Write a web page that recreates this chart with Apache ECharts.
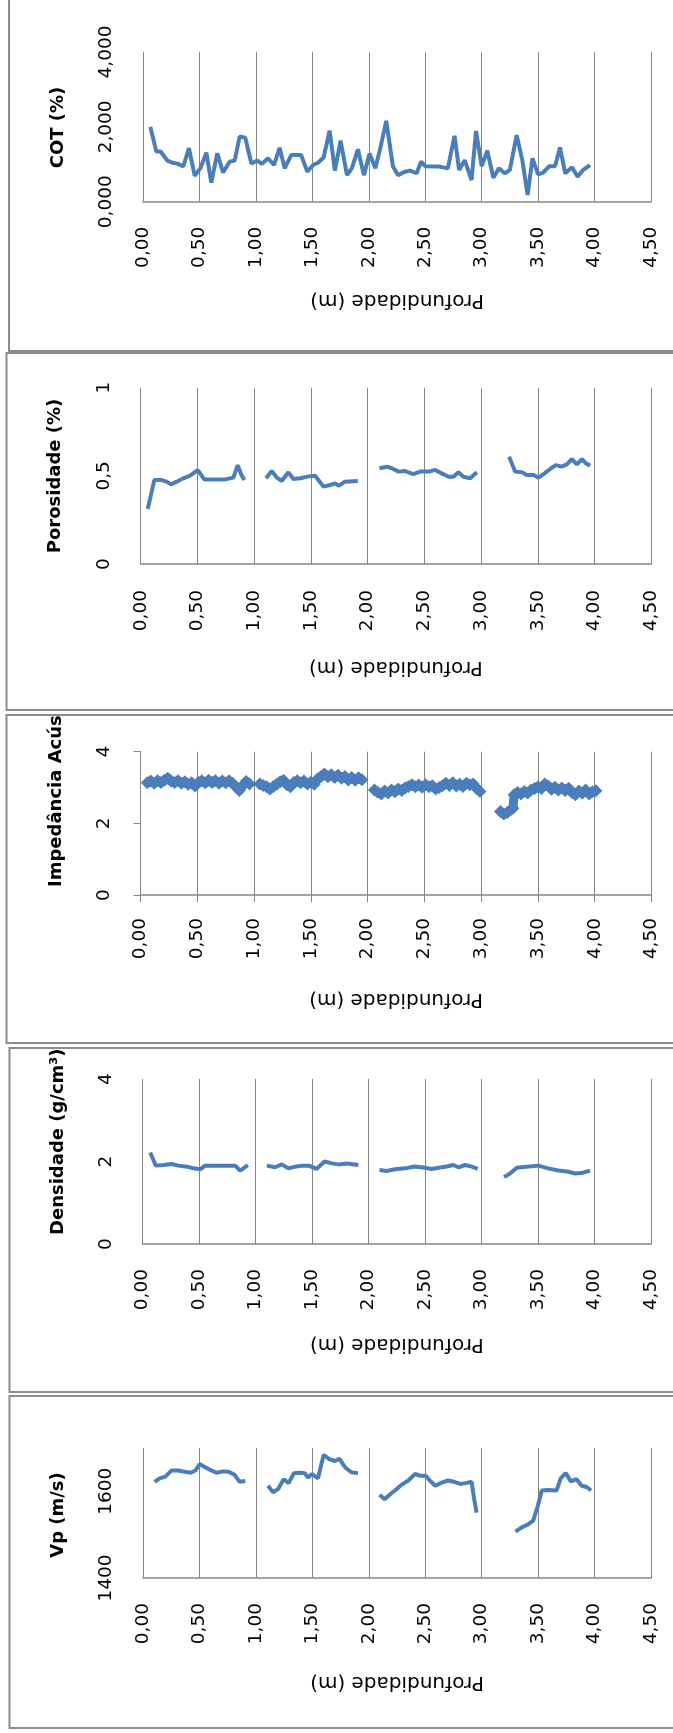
<!DOCTYPE html>
<html>
<head>
<meta charset="utf-8">
<script src="https://cdn.jsdelivr.net/npm/echarts@6/dist/echarts.min.js"></script>
<style>
html,body{margin:0;padding:0;background:#fff;}
#c{width:673px;height:1733px;}
</style>
</head>
<body>
<div id="c"></div>
<script>
// ---------- DATA ----------
var depthTicks = [0,0.5,1,1.5,2,2.5,3,3.5,4,4.5];

var cotDepth = [0.065,0.118,0.156,0.215,0.266,0.31,0.357,0.407,0.458,0.508,0.561,0.605,0.658,0.709,0.768,0.812,0.856,0.906,0.96,1.013,1.054,1.107,1.16,1.21,1.255,1.314,1.40,1.456,1.506,1.55,1.60,1.653,1.70,1.75,1.807,1.85,1.904,1.957,2.007,2.058,2.105,2.155,2.214,2.26,2.32,2.365,2.424,2.463,2.50,2.62,2.70,2.76,2.80,2.85,2.91,2.95,3.00,3.05,3.103,3.153,3.205,3.25,3.31,3.36,3.407,3.45,3.50,3.545,3.60,3.65,3.694,3.74,3.80,3.85,3.90,3.96];
var cotValue = [2.00,1.34,1.34,1.10,1.04,1.01,0.94,1.43,0.69,0.89,1.31,0.51,1.29,0.78,1.07,1.10,1.74,1.71,1.02,1.10,1.01,1.16,0.98,1.44,0.89,1.25,1.25,0.80,0.98,1.04,1.18,1.90,0.83,1.63,0.71,0.89,1.40,0.71,1.29,0.89,1.47,2.16,0.94,0.71,0.80,0.83,0.76,1.07,0.95,0.94,0.89,1.76,0.85,1.11,0.58,1.89,0.95,1.36,0.64,0.89,0.76,0.85,1.78,1.11,0.18,1.16,0.73,0.78,0.95,0.95,1.45,0.76,0.92,0.67,0.85,0.98];

var porDepth = [0.062,0.12,0.185,0.229,0.267,0.317,0.376,0.435,0.503,0.561,0.655,0.744,0.817,0.855,0.885,0.914,1.0,1.105,1.155,1.20,1.243,1.302,1.346,1.405,1.479,1.537,1.56,1.611,1.67,1.714,1.749,1.80,1.914,2.0,2.105,2.17,2.213,2.272,2.33,2.404,2.463,2.537,2.596,2.654,2.713,2.757,2.80,2.845,2.904,2.963,3.1,3.248,3.30,3.36,3.404,3.463,3.507,3.56,3.618,3.66,3.71,3.757,3.80,3.845,3.89,3.924,3.962];
var porValue = [0.312,0.476,0.476,0.467,0.452,0.467,0.486,0.501,0.533,0.480,0.480,0.480,0.490,0.561,0.509,0.476,null,0.486,0.527,0.490,0.471,0.520,0.482,0.486,0.497,0.501,0.482,0.439,0.448,0.457,0.444,0.467,0.471,null,0.543,0.552,0.543,0.524,0.527,0.510,0.524,0.524,0.533,0.514,0.495,0.495,0.520,0.495,0.486,0.520,null,0.609,0.524,0.520,0.505,0.505,0.490,0.514,0.543,0.561,0.552,0.565,0.595,0.565,0.595,0.571,0.558];

var impDepth = [0.06,0.09,0.12,0.15,0.18,0.21,0.24,0.27,0.30,0.33,0.36,0.39,0.42,0.45,0.48,0.51,0.54,0.57,0.60,0.63,0.66,0.69,0.72,0.75,0.78,0.81,0.84,0.87,0.90,0.93,0.96,1.0,
1.05,1.08,1.11,1.14,1.17,1.20,1.23,1.26,1.29,1.32,1.35,1.38,1.41,1.44,1.47,1.50,1.53,1.56,1.59,1.62,1.65,1.68,1.71,1.74,1.77,1.80,1.83,1.86,1.89,1.92,1.95,2.0,
2.06,2.09,2.12,2.15,2.18,2.21,2.24,2.27,2.30,2.33,2.36,2.39,2.42,2.45,2.48,2.51,2.54,2.57,2.60,2.63,2.66,2.69,2.72,2.75,2.78,2.81,2.84,2.87,2.90,2.93,2.96,2.99,3.08,
3.17,3.20,3.23,3.26,3.28,3.29,3.32,3.35,3.38,3.41,3.44,3.47,3.50,3.53,3.56,3.59,3.62,3.65,3.68,3.71,3.74,3.77,3.80,3.83,3.86,3.89,3.92,3.95,3.98,4.01];
var impValue = [3.13,3.18,3.12,3.19,3.14,3.20,3.26,3.18,3.14,3.19,3.12,3.16,3.09,3.13,3.04,3.14,3.19,3.13,3.20,3.14,3.19,3.12,3.18,3.13,3.19,3.12,3.02,2.92,3.06,3.17,3.10,null,
3.10,3.06,3.02,2.96,3.03,3.09,3.16,3.20,3.08,3.02,3.14,3.19,3.13,3.18,3.10,3.15,3.09,3.24,3.31,3.38,3.30,3.36,3.28,3.34,3.26,3.31,3.21,3.28,3.20,3.27,3.22,null,
2.93,2.87,2.82,2.90,2.85,2.93,2.88,2.96,2.92,2.99,3.03,3.08,3.02,3.07,3.01,3.08,3.02,3.05,2.96,3.00,3.05,3.12,3.06,3.13,3.04,3.09,3.03,3.12,3.08,3.10,2.97,2.89,null,
2.33,2.26,2.30,2.38,2.42,2.80,2.86,2.82,2.89,2.85,2.93,2.97,3.02,2.97,3.10,3.04,2.95,3.01,2.93,2.99,2.92,2.98,2.86,2.80,2.90,2.84,2.93,2.82,2.88,2.91];

var denDepth = [0.068,0.118,0.186,0.26,0.318,0.392,0.451,0.51,0.554,0.643,0.731,0.82,0.864,0.893,0.932,1.0,1.10,1.174,1.233,1.29,1.35,1.41,1.47,1.54,1.61,1.675,1.734,1.81,1.91,2.0,2.097,2.16,2.235,2.324,2.41,2.50,2.56,2.62,2.692,2.75,2.796,2.855,2.914,2.967,3.08,3.20,3.253,3.312,3.40,3.503,3.59,3.68,3.77,3.828,3.90,3.96];
var denValue = [2.22,1.90,1.915,1.94,1.90,1.875,1.834,1.81,1.90,1.90,1.90,1.90,1.78,1.834,1.915,null,1.90,1.86,1.93,1.834,1.875,1.90,1.90,1.82,2.00,1.955,1.93,1.95,1.915,null,1.794,1.77,1.81,1.834,1.88,1.85,1.82,1.85,1.88,1.915,1.86,1.915,1.875,1.82,null,1.62,1.71,1.85,1.875,1.90,1.834,1.78,1.75,1.71,1.73,1.78];

var vpDepth = [0.103,0.148,0.198,0.251,0.31,0.369,0.422,0.464,0.502,0.546,0.60,0.65,0.709,0.759,0.812,0.856,0.906,1.0,1.107,1.152,1.196,1.246,1.29,1.337,1.388,1.432,1.461,1.497,1.55,1.60,1.653,1.70,1.74,1.792,1.845,1.904,2.0,2.096,2.14,2.185,2.232,2.29,2.35,2.41,2.455,2.505,2.54,2.59,2.646,2.70,2.757,2.81,2.858,2.91,2.935,2.955,3.1,3.30,3.354,3.408,3.457,3.496,3.532,3.59,3.664,3.70,3.744,3.79,3.84,3.886,3.93,3.97];
var vpValue = [1622,1630,1634,1648,1648,1645,1643,1648,1663,1656,1649,1643,1646,1645,1638,1622,1624,null,1613,1598,1605,1628,1619,1642,1643,1642,1632,1640,1630,1684,1674,1670,1675,1655,1644,1642,null,1592,1582,1592,1602,1615,1625,1640,1636,1636,1625,1613,1620,1625,1622,1617,1619,1622,1580,1551,null,1507,1517,1523,1533,1565,1602,1603,1602,1630,1642,1623,1628,1613,1610,1602];

var panelNames = ['COT (%)','Porosidade (%)','Impedância Acústica','Densidade (g/cm³)','Vp (m/s)'];
var xName = 'Profundidade (m)';
var yMin = [0,0,0,0,1400];
var yMax = [4,1,4,4,1700];
var yInterval = [2,0.5,2,2,200];

// ---------- LAYOUT ----------
var grids = [
  {left:143, top:52, width:508, height:149.7},
  {left:140.7, top:387.7, width:510.5, height:176.3},
  {left:140.5, top:751.7, width:511, height:143.3},
  {left:142.5, top:1079, width:508.5, height:165},
  {left:143, top:1448, width:508, height:130}
];
var xNameGap = [89, 93, 94, 90, 94];
var xLabelMargin = [25, 26, 23, 25, 25];
var BLUE = '#4A7EBB';
var GRAY = '#868686';
var FONT = 'DejaVu Sans';

function pairs(d, v){ return d.map(function(x,i){ return [x, v[i]]; }); }
var seriesData = [pairs(cotDepth,cotValue), pairs(porDepth,porValue), pairs(impDepth,impValue), pairs(denDepth,denValue), pairs(vpDepth,vpValue)];

var yFormat = [
  function(v){ return v.toFixed(3).replace('.', ','); },
  function(v){ return String(v).replace('.', ','); },
  function(v){ return String(v); },
  function(v){ return String(v); },
  function(v){ return String(v); }
];

var xAxes = [], yAxes = [], series = [];
for (var i = 0; i < 5; i++) {
  var ticks = (i === 2);
  xAxes.push({
    type:'value', gridIndex:i, min:depthTicks[0], max:depthTicks[depthTicks.length-1], interval:0.5,
    name:xName, nameLocation:'middle', nameGap:xNameGap[i], nameRotate:180,
    nameTextStyle:{fontFamily:FONT, fontSize:20, color:'#000'},
    axisLine:{show:true, lineStyle:{color:GRAY, width:1.5}},
    axisTick:{show:ticks, length:7, lineStyle:{color:GRAY}},
    splitLine:{show:true, lineStyle:{color:GRAY, width:1}},
    axisLabel:{rotate:90, margin:xLabelMargin[i], fontFamily:FONT, fontSize:18.5, color:'#000',
      formatter:function(v){ return v.toFixed(2).replace('.', ','); }}
  });
  yAxes.push({
    type:'value', gridIndex:i, min:yMin[i], max:yMax[i], interval:yInterval[i],
    axisLine:{show:ticks, lineStyle:{color:GRAY, width:1}},
    axisTick:{show:ticks, length:7, lineStyle:{color:GRAY}},
    splitLine:{show:false},
    axisLabel:{rotate:90, margin:27, fontFamily:FONT, fontSize:18.5, color:'#000',
      showMaxLabel: i === 4 ? false : true, formatter:yFormat[i]}
  });
  series.push({
    type:'line', xAxisIndex:i, yAxisIndex:i, data:seriesData[i],
    showSymbol: i === 2, symbol:'diamond', symbolSize:13,
    itemStyle:{color:BLUE}, lineStyle:{color:BLUE, width: i===2 ? 9 : 4},
    connectNulls:false, smooth:false, animation:false, z:5
  });
}

// y-axis titles (rotated), borders, covers
var nameFont = 'bold 18px "DejaVu Sans"';
function vText(txt, x, y, align){
  return {type:'text', x:x, y:y, rotation:Math.PI/2, z:10,
    style:{text:txt, x:0, y:0, align:align, verticalAlign:'middle', font:nameFont, fill:'#000'}};
}
var graphics = [
  vText(panelNames[0], 58, 127.5, 'center'),
  vText(panelNames[1], 55, 476, 'center'),
  vText(panelNames[2], 56, 887, 'left'),
  vText(panelNames[3], 58, 1235, 'left'),
  vText(panelNames[4], 58, 1515, 'center'),
  // covers that clip overflowing titles at the panel edges
  {type:'rect', z:20, shape:{x:30, y:650, width:60, height:64}, style:{fill:'#fff'}},
  {type:'rect', z:20, shape:{x:30, y:1020, width:60, height:27.5}, style:{fill:'#fff'}}
];
var borders = [
  [9, -10, 700, 361],
  [6.5, 353, 700, 357],
  [6.5, 715, 700, 328],
  [9.5, 1048, 700, 344],
  [9.5, 1396, 700, 332]
];
borders.forEach(function(b){
  graphics.push({type:'rect', z:30, shape:{x:b[0], y:b[1], width:b[2], height:b[3]},
    style:{fill:'none', stroke:'#8c8c8c', lineWidth:2}});
});

var chart = echarts.init(document.getElementById('c'), null, {renderer:'canvas'});
chart.setOption({
  backgroundColor:'#fff',
  animation:false,
  grid:grids,
  xAxis:xAxes,
  yAxis:yAxes,
  series:series,
  graphic:graphics
});
</script>
</body>
</html>
